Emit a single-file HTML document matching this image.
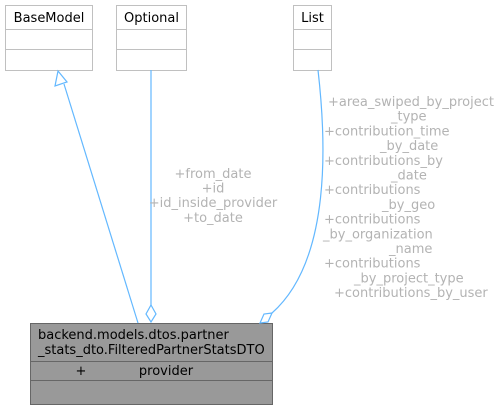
<!DOCTYPE html>
<html><head><meta charset="utf-8"><style>
html,body{margin:0;padding:0;background:#fff;}
svg{display:block;}
text{font-family:"DejaVu Sans","Liberation Sans",sans-serif;font-size:13px;}
</style></head><body>
<svg width="502" height="409" viewBox="0 0 502 409" xmlns="http://www.w3.org/2000/svg">
<g fill="#fff" stroke="#c0c0c0" stroke-width="1">
<rect x="5.5" y="5.5" width="87" height="65"/>
<line x1="5.5" y1="29.5" x2="92.5" y2="29.5"/><line x1="5.5" y1="49.5" x2="92.5" y2="49.5"/>
<rect x="116.5" y="5.5" width="70" height="65"/>
<line x1="116.5" y1="29.5" x2="186.5" y2="29.5"/><line x1="116.5" y1="49.5" x2="186.5" y2="49.5"/>
<rect x="293.5" y="5.5" width="38" height="65"/>
<line x1="293.5" y1="29.5" x2="331.5" y2="29.5"/><line x1="293.5" y1="49.5" x2="331.5" y2="49.5"/>
</g>
<g fill="#000">
<text x="49" y="22" text-anchor="middle">BaseModel</text>
<text x="151.5" y="22" text-anchor="middle">Optional</text>
<text x="312.5" y="22" text-anchor="middle">List</text>
</g>
<g fill="#999" stroke="#666" stroke-width="1">
<rect x="30.5" y="323.5" width="242" height="81"/>
<line x1="30.5" y1="361.5" x2="272.5" y2="361.5"/><line x1="30.5" y1="380.5" x2="272.5" y2="380.5"/>
</g>
<g fill="#000">
<text x="38" y="339">backend.models.dtos.partner</text>
<text x="38" y="354">_stats_dto.FilteredPartnerStatsDTO</text>
<text x="81" y="375" text-anchor="middle">+</text>
<text x="166" y="375" text-anchor="middle">provider</text>
</g>
<g fill="none" stroke="#63b8ff" stroke-width="1.2">
<line x1="64" y1="84" x2="138" y2="323"/>
<polygon points="58,71 55,86 67,82" fill="#fff"/>
<line x1="151" y1="70" x2="151" y2="305"/>
<polygon points="151,305 156,314 151,322 146,314" fill="#fff"/>
<path d="M318,70 C326,140 332,260 272,313"/>
<polygon points="272,313 268,322 260,323 264,314" fill="#fff"/>
</g>
<g fill="#b3b3b3">
<text x="213" y="178" text-anchor="middle">+from_date</text>
<text x="213" y="192.5" text-anchor="middle">+id</text>
<text x="213" y="207" text-anchor="middle">+id_inside_provider</text>
<text x="213" y="222" text-anchor="middle">+to_date</text>
<text x="328" y="106">+area_swiped_by_project</text>
<text x="391" y="120.7">_type</text>
<text x="324" y="135.4">+contribution_time</text>
<text x="380" y="150.1">_by_date</text>
<text x="324" y="164.8">+contributions_by</text>
<text x="391" y="179.5">_date</text>
<text x="324" y="194.2">+contributions</text>
<text x="382" y="208.9">_by_geo</text>
<text x="324" y="223.6">+contributions</text>
<text x="323" y="238.3">_by_organization</text>
<text x="389" y="253">_name</text>
<text x="324" y="267.7">+contributions</text>
<text x="354" y="282.4">_by_project_type</text>
<text x="334" y="297.1">+contributions_by_user</text>
</g>
</svg>
</body></html>
